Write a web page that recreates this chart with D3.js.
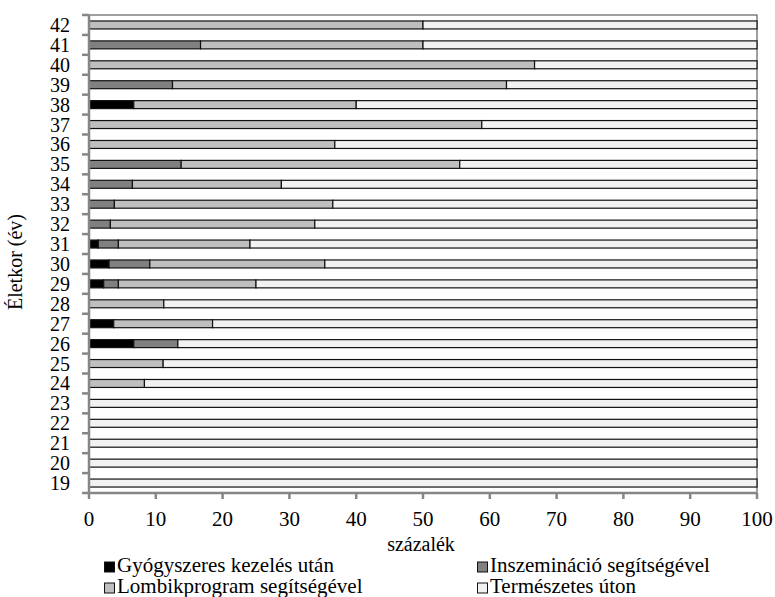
<!DOCTYPE html>
<html><head><meta charset="utf-8">
<script src="https://cdn.jsdelivr.net/npm/d3@7"></script>
</head><body style="margin:0"><svg id="c" width="775" height="597"></svg>
<script>
const ages = ["19","20","21","22","23","24","25","26","27","28","29","30","31","32","33","34","35","36","37","38","39","40","41","42"];
const seriesNames = ["Gyógyszeres kezelés után","Inszemináció segítségével","Lombikprogram segítségével","Természetes úton"];
const seriesColors = ["#000000","#808080","#bfbfbf","#f2f2f2"];
const gyogyszeres = [0,0,0,0,0,0,0,6.7,3.7,0,2.2,3.0,1.4,0,0,0,0,0,0,6.7,0,0,0,0];
const inszeminacio = [0,0,0,0,0,0,0,6.6,0,0,2.2,6.1,3.0,3.2,3.8,6.5,13.8,0,0,0,12.5,0,16.7,0];
const lombik = [0,0,0,0,0,8.3,11.1,0,14.8,11.2,20.6,26.2,19.7,30.6,32.7,22.3,41.7,36.8,58.8,33.3,50,66.7,33.3,50];
const xTicks = [0,10,20,30,40,50,60,70,80,90,100];
const termeszetes = ages.map((a,i)=>+(100-gyogyszeres[i]-inszeminacio[i]-lombik[i]).toFixed(1));

const rows = ages.map((a,i)=>({age:a, s0:gyogyszeres[i], s1:inszeminacio[i], s2:lombik[i], s3:termeszetes[i]}));
const keys = ["s0","s1","s2","s3"];
const stack = d3.stack().keys(keys)(rows);

const svg = d3.select("#c");
const L=89, R=757, T=15, B=493;
const x = d3.scaleLinear().domain([0,100]).range([L,R]);
const y = d3.scaleBand().domain(ages.slice().reverse()).range([T,B]).paddingInner(0.6).paddingOuter(0.3);
const yb = d3.scaleBand().domain(ages.slice().reverse()).range([T,B]);

svg.append("rect").attr("x",L).attr("y",T).attr("width",R-L).attr("height",B-T)
  .attr("fill","none").attr("stroke","#404040").attr("stroke-width",1);

stack.forEach((layer,k)=>{
  svg.append("g").selectAll("rect").data(layer.filter(d=>d[1]-d[0]>0)).join("rect")
    .attr("x",d=>x(d[0])).attr("width",d=>x(d[1])-x(d[0]))
    .attr("y",d=>y(d.data.age)).attr("height",y.bandwidth())
    .attr("fill",seriesColors[k]).attr("stroke","#111").attr("stroke-width",1.2);
});

// y axis
const ya = svg.append("g").attr("transform",`translate(${L},0)`);
ya.append("line").attr("x1",0).attr("x2",0).attr("y1",T).attr("y2",B).attr("stroke","#868686").attr("stroke-width",2.5);
const bounds = ages.map(a=>yb(a)).concat([B]);
ya.selectAll("line.t").data(bounds).join("line").attr("class","t")
  .attr("x1",-7).attr("x2",0).attr("y1",d=>d).attr("y2",d=>d).attr("stroke","#868686").attr("stroke-width",2.5);
ya.selectAll("text").data(ages).join("text")
  .attr("x",-19).attr("y",d=>yb(d)+yb.bandwidth()/2).attr("dy","0.35em")
  .attr("text-anchor","end").attr("font-family","Liberation Serif").attr("font-size",20).text(d=>d);

// x axis
const xa = svg.append("g").attr("transform",`translate(0,${B})`);
xa.append("line").attr("x1",L).attr("x2",R).attr("stroke","#868686").attr("stroke-width",2.5);
xa.selectAll("line.t").data(xTicks).join("line").attr("class","t")
  .attr("x1",d=>x(d)).attr("x2",d=>x(d)).attr("y1",0).attr("y2",6).attr("stroke","#868686").attr("stroke-width",2.5);
xa.selectAll("text").data(xTicks).join("text")
  .attr("x",d=>x(d)).attr("y",33).attr("text-anchor","middle").style("font-family","Times New Roman").style("font-size","21px").text(d=>d);

svg.append("text").attr("x",421).attr("y",551).attr("text-anchor","middle").style("font-family","serif").style("font-size","20px").text("százalék");
svg.append("text").attr("transform",`translate(15,262) rotate(-90)`).attr("text-anchor","middle").attr("dy","0.35em")
  .style("font-family","Liberation Serif").style("font-size","20px").text("Életkor (év)");

// legend
const legPos = [[104,567],[477,567],[104,588],[477,588]];
seriesNames.forEach((n,i)=>{
  const g = svg.append("g").attr("transform",`translate(${legPos[i][0]},${legPos[i][1]})`);
  g.append("rect").attr("x",0.5).attr("y",-5).attr("width",10).attr("height",10)
    .attr("fill",seriesColors[i]).attr("stroke","#111").attr("stroke-width",1);
  g.append("text").attr("x",13).attr("y",5).style("font-family","Tinos").style("font-size","21px").text(n);
});
</script></body></html>
